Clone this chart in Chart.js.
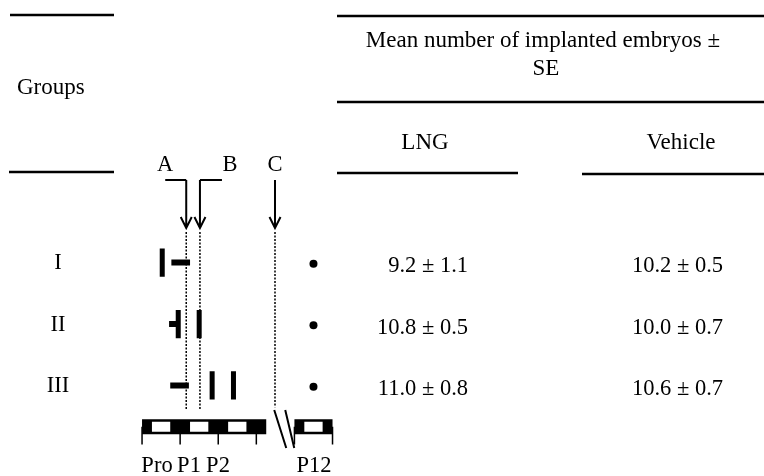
<!DOCTYPE html>
<html lang="en">
<head>
  <meta charset="UTF-8">
  <title>Implanted embryos after LNG treatment</title>
  <script src="https://cdn.jsdelivr.net/npm/chart.js"></script>
  <style>
    body {
      margin: 0;
      background: #fff;
    }

    #chartContainer {
      width: 764px;
      height: 476px;
    }
  </style>
</head>
<body>

  <div id="chartContainer">
    <canvas id="embryoChart"></canvas>
  </div>

  <script>
    // Table data
    const groups = ["I", "II", "III"];
    const lngMean = [9.2, 10.8, 11.0];
    const lngSE = [1.1, 0.5, 0.8];
    const vehicleMean = [10.2, 10.0, 10.6];
    const vehicleSE = [0.5, 0.7, 0.7];

    // Schedule (x in days from start of proestrus, P12 drawn after an axis break)
    const markerLabels = ["A", "B", "C"];
    const markerDays = [1.16, 1.52, 3.49];
    const spanStart = [0.77, 0.71, 0.74];
    const spanEnd = [1.26, 0.95, 1.23];
    const doseDays = [[0.53], [0.95, 1.50], [1.84, 2.40]];
    const autopsyDay = 4.5;
    const axisSegments = [[0, 3.26], [4, 5]];
    const dayTicks = [0, 1, 2, 3, 4, 5];
    const lightPhase = [0.26, 0.74];
    const dayLabels = ["Pro", "P1", "P2", "P12"];

    // layout (pixels)
    const W = 764, H = 476;
    const DAY0_PX = 139.5, PX_PER_DAY = 38.5;
    const ROW1_PX = 263, ROW_GAP = 62.5;
    const BAR_Y = 1 + (430 - ROW1_PX) / ROW_GAP;
    const TICK_END = 1 + (448 - ROW1_PX) / ROW_GAP;
    const DOT_TOP = 1 + (232 - ROW1_PX) / ROW_GAP;
    const DOT_BOTTOM = 1 + (412 - ROW1_PX) / ROW_GAP;
    const FONT = '22.5px "Liberation Serif", "Times New Roman", serif';
    const HEAD_FONT = '23px "Liberation Serif", "Times New Roman", serif';

    // build line segments (null y breaks the line)
    const dottedPts = [];
    markerDays.forEach((d, i) => {
      const bottom = i === 2 ? DOT_BOTTOM - 0.03 : DOT_BOTTOM;
      dottedPts.push({ x: d, y: DOT_TOP }, { x: d, y: bottom }, { x: d, y: null });
    });

    const spanPts = [];
    groups.forEach((g, i) => {
      spanPts.push({ x: spanStart[i], y: i + 1 }, { x: spanEnd[i], y: i + 1 }, { x: spanEnd[i], y: null });
    });

    const dosePts = [];
    doseDays.forEach((days, i) => {
      days.forEach(d => {
        dosePts.push({ x: d, y: i + 1 - 0.23 }, { x: d, y: i + 1 + 0.23 }, { x: d, y: null });
      });
    });

    const dotPts = groups.map((g, i) => ({ x: autopsyDay, y: i + 1.02 }));

    const barPts = [];
    axisSegments.forEach(s => {
      barPts.push({ x: s[0], y: BAR_Y }, { x: s[1], y: BAR_Y }, { x: s[1], y: null });
    });

    const lightPts = [];
    axisSegments.forEach(s => {
      for (let d = Math.floor(s[0]); d < s[1]; d++) {
        const a = d + lightPhase[0], b = d + lightPhase[1];
        if (b <= s[1]) lightPts.push({ x: a, y: BAR_Y }, { x: b, y: BAR_Y }, { x: b, y: null });
      }
    });

    const tickPts = [];
    dayTicks.forEach(d => {
      tickPts.push({ x: d, y: BAR_Y }, { x: d, y: TICK_END }, { x: d, y: null });
    });

    const lineSet = (data, width, color, dash) => ({
      data: data,
      showLine: true,
      spanGaps: false,
      pointRadius: 0,
      borderWidth: width,
      borderColor: color,
      borderDash: dash || [],
      borderCapStyle: 'butt',
      clip: false
    });

    // table, arrows, labels
    const tablePlugin = {
      id: 'tablePlugin',
      afterDatasetsDraw(chart) {
        const c = chart.ctx;
        const xs = chart.scales.x, ys = chart.scales.y;
        c.save();
        c.fillStyle = '#000';
        c.strokeStyle = '#000';

        const rule = (x1, x2, y) => {
          c.lineWidth = 2.5;
          c.beginPath();
          c.moveTo(x1, y);
          c.lineTo(x2, y);
          c.stroke();
        };
        rule(10, 114, 15);
        rule(337, W, 16);
        rule(337, W, 102);
        rule(9, 114, 172);
        rule(337, 518, 173);
        rule(582, W, 174);

        c.textBaseline = 'middle';
        c.font = HEAD_FONT;
        c.textAlign = 'left';
        c.fillText('Groups', 17, 88);
        c.textAlign = 'center';
        c.fillText('Mean number of implanted embryos \u00b1', 543, 41);
        c.fillText('SE', 546, 69);
        c.fillText('LNG', 425, 143);
        c.fillText('Vehicle', 681, 143);

        c.font = FONT;
        groups.forEach((g, i) => {
          const y = ys.getPixelForValue(i + 1);
          c.textAlign = 'center';
          c.fillText(g, 58, y + 1);
          c.textAlign = 'right';
          c.fillText(lngMean[i].toFixed(1) + ' \u00b1 ' + lngSE[i].toFixed(1), 468, y + 4);
          c.fillText(vehicleMean[i].toFixed(1) + ' \u00b1 ' + vehicleSE[i].toFixed(1), 723, y + 4);
        });

        // arrows A, B, C
        c.lineWidth = 2;
        markerDays.forEach((d, i) => {
          const x = xs.getPixelForValue(d);
          const top = 180, tip = 228;
          let lx = x;
          c.beginPath();
          if (i === 0) { lx = x - 21; c.moveTo(lx, top); c.lineTo(x, top); }
          if (i === 1) { lx = x + 22; c.moveTo(lx, top); c.lineTo(x, top); }
          c.moveTo(x, top);
          c.lineTo(x, tip);
          c.moveTo(x - 5.5, tip - 11);
          c.lineTo(x, tip);
          c.lineTo(x + 5.5, tip - 11);
          c.stroke();
          c.textAlign = 'center';
          c.fillText(markerLabels[i], i === 0 ? lx : (i === 1 ? lx + 8 : x), 165);
        });

        // axis break
        const g0 = xs.getPixelForValue(axisSegments[0][1]);
        c.lineWidth = 2;
        c.beginPath();
        c.moveTo(g0 + 8, 410); c.lineTo(g0 + 20, 448);
        c.moveTo(g0 + 19, 410); c.lineTo(g0 + 28, 448);
        c.stroke();

        // day labels
        const labelPx = [157, 189, 218, 314];
        c.textAlign = 'center';
        dayLabels.forEach((l, i) => c.fillText(l, labelPx[i], 466));
        c.restore();
      }
    };

    // first dataset is drawn on top
    new Chart(document.getElementById('embryoChart'), {
      type: 'scatter',
      data: {
        datasets: [
          {
            data: dotPts,
            pointRadius: 4,
            pointBackgroundColor: '#000',
            pointBorderWidth: 0,
            clip: false
          },
          lineSet(dosePts, 5, '#000'),
          lineSet(spanPts, 6, '#000'),
          lineSet(lightPts, 10, '#fff'),
          lineSet(barPts, 15, '#000'),
          lineSet(tickPts, 1.5, '#000'),
          lineSet(dottedPts, 1.5, '#000', [2, 1.5])
        ]
      },
      options: {
        responsive: true,
        maintainAspectRatio: false,
        animation: false,
        events: [],
        layout: { padding: 0 },
        scales: {
          x: {
            display: false,
            min: -DAY0_PX / PX_PER_DAY,
            max: (W - DAY0_PX) / PX_PER_DAY
          },
          y: {
            display: false,
            reverse: true,
            min: 1 - ROW1_PX / ROW_GAP,
            max: 1 + (H - ROW1_PX) / ROW_GAP
          }
        },
        plugins: {
          legend: { display: false },
          tooltip: { enabled: false }
        }
      },
      plugins: [tablePlugin]
    });
  </script>

</body>
</html>
